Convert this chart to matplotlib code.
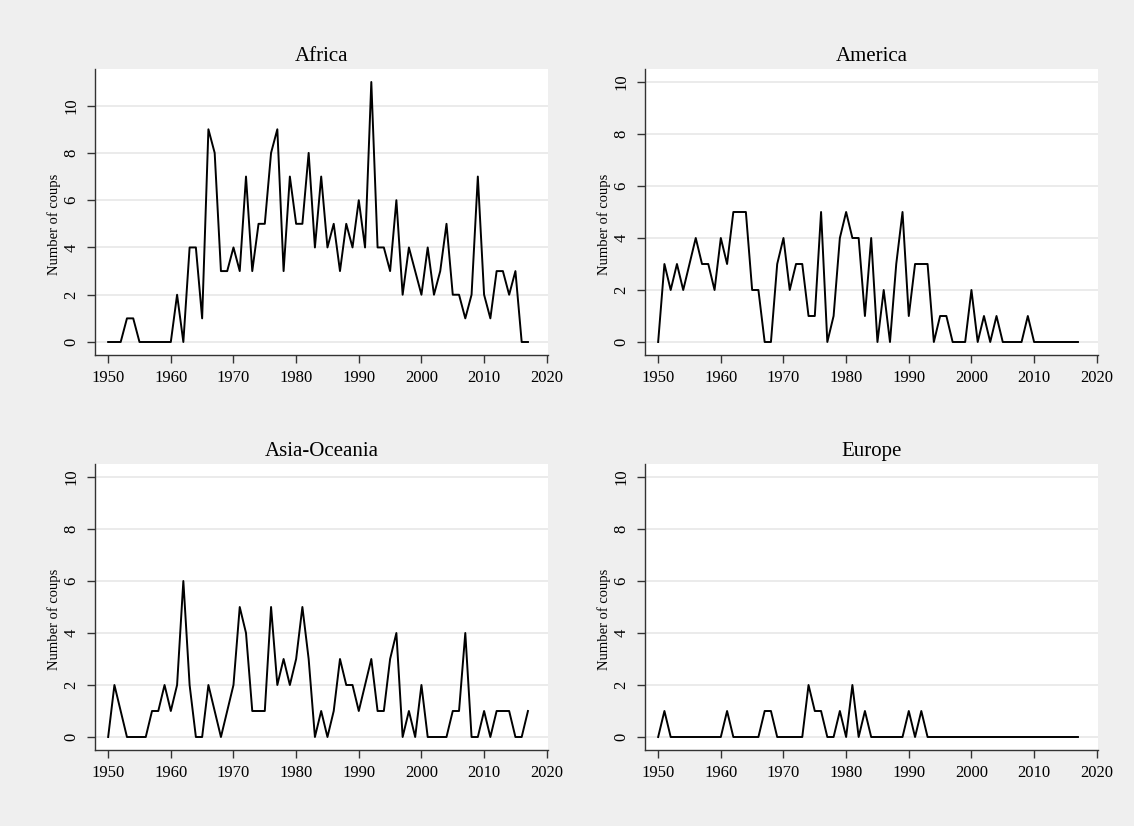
import numpy as np
import matplotlib
matplotlib.use('Agg')
import matplotlib.pyplot as plt

plt.rcParams['font.family'] = ['Liberation Serif', 'DejaVu Serif']

years = np.arange(1950, 2018)

africa = [0, 0, 0, 1, 1, 0, 0, 0, 0, 0,
          0, 2, 0, 4, 4, 1, 9, 8, 3, 3,
          4, 3, 7, 3, 5, 5, 8, 9, 3, 7,
          5, 5, 8, 4, 7, 4, 5, 3, 5, 4,
          6, 4, 11, 4, 4, 3, 6, 2, 4, 3,
          2, 4, 2, 3, 5, 2, 2, 1, 2, 7,
          2, 1, 3, 3, 2, 3, 0, 0]

america = [0, 3, 2, 3, 2, 3, 4, 3, 3, 2,
           4, 3, 5, 5, 5, 2, 2, 0, 0, 3,
           4, 2, 3, 3, 1, 1, 5, 0, 1, 4,
           5, 4, 4, 1, 4, 0, 2, 0, 3, 5,
           1, 3, 3, 3, 0, 1, 1, 0, 0, 0,
           2, 0, 1, 0, 1, 0, 0, 0, 0, 1,
           0, 0, 0, 0, 0, 0, 0, 0]

asia = [0, 2, 1, 0, 0, 0, 0, 1, 1, 2,
        1, 2, 6, 2, 0, 0, 2, 1, 0, 1,
        2, 5, 4, 1, 1, 1, 5, 2, 3, 2,
        3, 5, 3, 0, 1, 0, 1, 3, 2, 2,
        1, 2, 3, 1, 1, 3, 4, 0, 1, 0,
        2, 0, 0, 0, 0, 1, 1, 4, 0, 0,
        1, 0, 1, 1, 1, 0, 0, 1]

europe = [0, 1, 0, 0, 0, 0, 0, 0, 0, 0,
          0, 1, 0, 0, 0, 0, 0, 1, 1, 0,
          0, 0, 0, 0, 2, 1, 1, 0, 0, 1,
          0, 2, 0, 1, 0, 0, 0, 0, 0, 0,
          1, 0, 1, 0, 0, 0, 0, 0, 0, 0,
          0, 0, 0, 0, 0, 0, 0, 0, 0, 0,
          0, 0, 0, 0, 0, 0, 0, 0]

panels = [('Africa', africa, 11), ('America', america, 10),
          ('Asia-Oceania', asia, 10), ('Europe', europe, 10)]

W, H = 1134, 826
fig = plt.figure(figsize=(W / 100, H / 100), dpi=100)
fig.patch.set_facecolor('#efefef')

# axes boxes in pixels: left, top, right, bottom
boxes = [(95, 69, 548, 355), (645, 69, 1098, 355),
         (95, 464, 548, 750), (645, 464, 1098, 750)]

for (title, vals, ymax), (l, t, r, b) in zip(panels, boxes):
    ax = fig.add_axes([l / W, 1 - b / H, (r - l) / W, (b - t) / H])
    ax.set_facecolor('white')
    ax.plot(years, vals, color='black', lw=1.4, zorder=3)
    ax.set_xlim(1947.9, 2020.2)
    ax.set_ylim(-0.05 * ymax, 1.05 * ymax)
    ax.set_xticks(range(1950, 2021, 10))
    ax.set_yticks(range(0, 11, 2))
    ax.grid(axis='y', color='#e9e9e9', lw=1.3, zorder=0)
    for s in ['top', 'right']:
        ax.spines[s].set_visible(False)
    for s in ['left', 'bottom']:
        ax.spines[s].set_color('#333333')
        ax.spines[s].set_linewidth(1.0)
    ax.tick_params(axis='both', length=5.5, width=1.0, color='#333333',
                   labelsize=12, pad=5.5)
    for lab in ax.get_yticklabels():
        lab.set_rotation(90)
        lab.set_va('center')
    ax.set_title(title, fontsize=15, pad=6)
    ax.set_ylabel('Number of coups', fontsize=10.5)
    ax.yaxis.set_label_coords(-0.075, 0.455)

fig.savefig('out.png', dpi=100, facecolor=fig.get_facecolor())
